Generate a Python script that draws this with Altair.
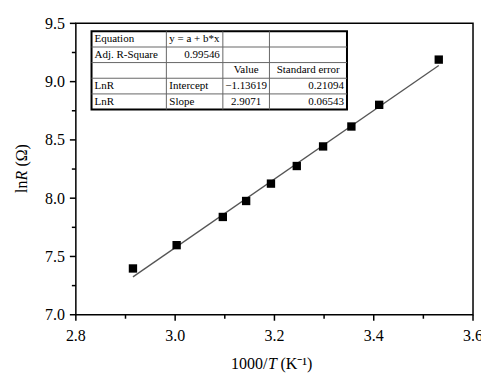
import altair as alt
import pandas as pd

inv_T = [2.915, 3.003, 3.096, 3.143, 3.193, 3.245, 3.298, 3.355, 3.411, 3.531]
lnR = [7.397, 7.597, 7.839, 7.976, 8.125, 8.276, 8.444, 8.615, 8.801, 9.189]

# Fitted line end points
fit_x = [2.915, 3.531]
fit_y = [7.325, 9.138]

# Axis ticks
x_major = [2.8, 3.0, 3.2, 3.4, 3.6]
x_minor = [2.9, 3.1, 3.3, 3.5]
y_major = [7.0, 7.5, 8.0, 8.5, 9.0, 9.5]
y_minor = [7.25, 7.75, 8.25, 8.75, 9.25]

# Fit result table
table_rows = [
    ["Equation", "y = a + b*x", "", ""],
    ["Adj. R-Square", "0.99546", "", ""],
    ["", "", "Value", "Standard error"],
    ["LnR", "Intercept", "\u22121.13619", "0.21094"],
    ["LnR", "Slope", "2.9071", "0.06543"],
]
table_align = [
    ["left", "left", "left", "left"],
    ["left", "right", "left", "left"],
    ["left", "left", "center", "center"],
    ["left", "left", "center", "right"],
    ["left", "left", "center", "right"],
]

W, H = 398, 292
XD = (2.8, 3.6)
YD = (7.0, 9.5)
SERIF = "Liberation Serif"

xs = alt.Scale(domain=list(XD), nice=False, zero=False)
ys = alt.Scale(domain=list(YD), nice=False, zero=False)


def X(f):
    return alt.X(f, type="quantitative", scale=xs, axis=None)


def Y(f):
    return alt.Y(f, type="quantitative", scale=ys, axis=None)


def px2x(p):
    return XD[0] + (p / W) * (XD[1] - XD[0])


def py2y(p):
    return YD[1] - (p / H) * (YD[1] - YD[0])


# table geometry in plot pixels, converted to data units
col_px = [15.7, 90.7, 147.3, 194.0, 271.7]
row_px = [8.0, 23.7, 39.3, 55.0, 70.7, 86.3]
col_b = [px2x(p) for p in col_px]
row_b = [py2y(p) for p in row_px]
pad = px2x(3) - XD[0]

pts = pd.DataFrame({"x": inv_T, "y": lnR})
fit = pd.DataFrame({"x": fit_x, "y": fit_y})

points = alt.Chart(pts).mark_square(size=70, color="black", opacity=1).encode(
    x=X("x"), y=Y("y"))

line = alt.Chart(fit).mark_line(color="#555555", strokeWidth=1.3).encode(
    x=X("x"), y=Y("y"))

# axes: ticks and labels
xmaj_df = pd.DataFrame({"x": x_major, "t": [f"{v:.1f}" for v in x_major]})
ymaj_df = pd.DataFrame({"y": y_major, "t": [f"{v:.1f}" for v in y_major]})

xmajor = alt.Chart(xmaj_df).mark_rule(color="black", strokeWidth=1.5).encode(
    x=X("x"), y=alt.value(H), y2=alt.value(H + 6))
ymajor = alt.Chart(ymaj_df).mark_rule(color="black", strokeWidth=1.5).encode(
    y=Y("y"), x=alt.value(0), x2=alt.value(-6))
xminor = alt.Chart(pd.DataFrame({"x": x_minor})).mark_rule(
    color="black", strokeWidth=1.5).encode(
    x=X("x"), y=alt.value(H), y2=alt.value(H + 4))
yminor = alt.Chart(pd.DataFrame({"y": y_minor})).mark_rule(
    color="black", strokeWidth=1.5).encode(
    y=Y("y"), x=alt.value(0), x2=alt.value(-4))
xlabels = alt.Chart(xmaj_df).mark_text(
    font=SERIF, fontSize=16, color="black", align="center", baseline="alphabetic").encode(
    x=X("x"), y=alt.value(H + 26), text="t:N")
ylabels = alt.Chart(ymaj_df).mark_text(
    font=SERIF, fontSize=16, color="black", align="right", baseline="alphabetic",
    dy=5.4).encode(
    y=Y("y"), x=alt.value(-11), text="t:N")

# table
box = alt.Chart(pd.DataFrame({"x": [col_b[0]], "x2": [col_b[-1]],
                              "y": [row_b[0]], "y2": [row_b[-1]]})).mark_rect(
    fill="white", stroke="black", strokeWidth=2).encode(
    x=X("x"), x2="x2:Q", y=Y("y"), y2="y2:Q")

vlines = alt.Chart(pd.DataFrame({"x": col_b[1:-1],
                                 "y": [row_b[0]] * 3, "y2": [row_b[-1]] * 3})).mark_rule(
    color="#666666", strokeWidth=1).encode(x=X("x"), y=Y("y"), y2="y2:Q")
hlines = alt.Chart(pd.DataFrame({"y": row_b[1:-1],
                                 "x": [col_b[0]] * 4, "x2": [col_b[-1]] * 4})).mark_rule(
    color="#666666", strokeWidth=1).encode(y=Y("y"), x=X("x"), x2="x2:Q")

cells = []
for r, row in enumerate(table_rows):
    for c, txt in enumerate(row):
        if not txt:
            continue
        a = table_align[r][c]
        if a == "left":
            xv = col_b[c] + pad
        elif a == "right":
            xv = col_b[c + 1] - pad
        else:
            xv = (col_b[c] + col_b[c + 1]) / 2
        cells.append({"x": xv, "y": (row_b[r] + row_b[r + 1]) / 2, "t": txt, "a": a})
cells_df = pd.DataFrame(cells)
table_text = []
for a in ["left", "right", "center"]:
    sub = cells_df[cells_df["a"] == a]
    table_text.append(alt.Chart(sub).mark_text(
        font=SERIF, fontSize=11, color="black", align=a, baseline="middle").encode(
        x=X("x"), y=Y("y"), text="t:N"))

# axis titles with italic pieces
def tmark(txt, x, y, align, italic=False, angle=0):
    return alt.Chart(pd.DataFrame({"t": [txt]})).mark_text(
        font=SERIF, fontSize=16, color="black", align=align,
        baseline="alphabetic" if angle == 0 else "middle",
        fontStyle="italic" if italic else "normal", angle=angle).encode(
        x=alt.value(x), y=alt.value(y), text="t:N")

titles = [
    tmark("1000/", 192, 346, "right"),
    tmark("T", 192.5, 346, "left", italic=True),
    tmark("(K\u207b\u00b9)", 205, 346, "left"),
    tmark("ln", -54, 170, "left", angle=270),
    tmark("R", -54, 157.5, "left", italic=True, angle=270),
    tmark("(\u03a9)", -54, 143.5, "left", angle=270),
]

chart = alt.layer(
    line, points, xmajor, ymajor, xminor, yminor, xlabels, ylabels,
    box, vlines, hlines, *table_text, *titles
).properties(
    width=W, height=H,
    autosize=alt.AutoSizeParams(type="none"),
    padding={"left": 68, "top": 15, "right": 8, "bottom": 60},
).configure_view(
    stroke="black", strokeWidth=1.5
)

chart.save("out.html", embed_options={"renderer": "svg", "actions": False})
